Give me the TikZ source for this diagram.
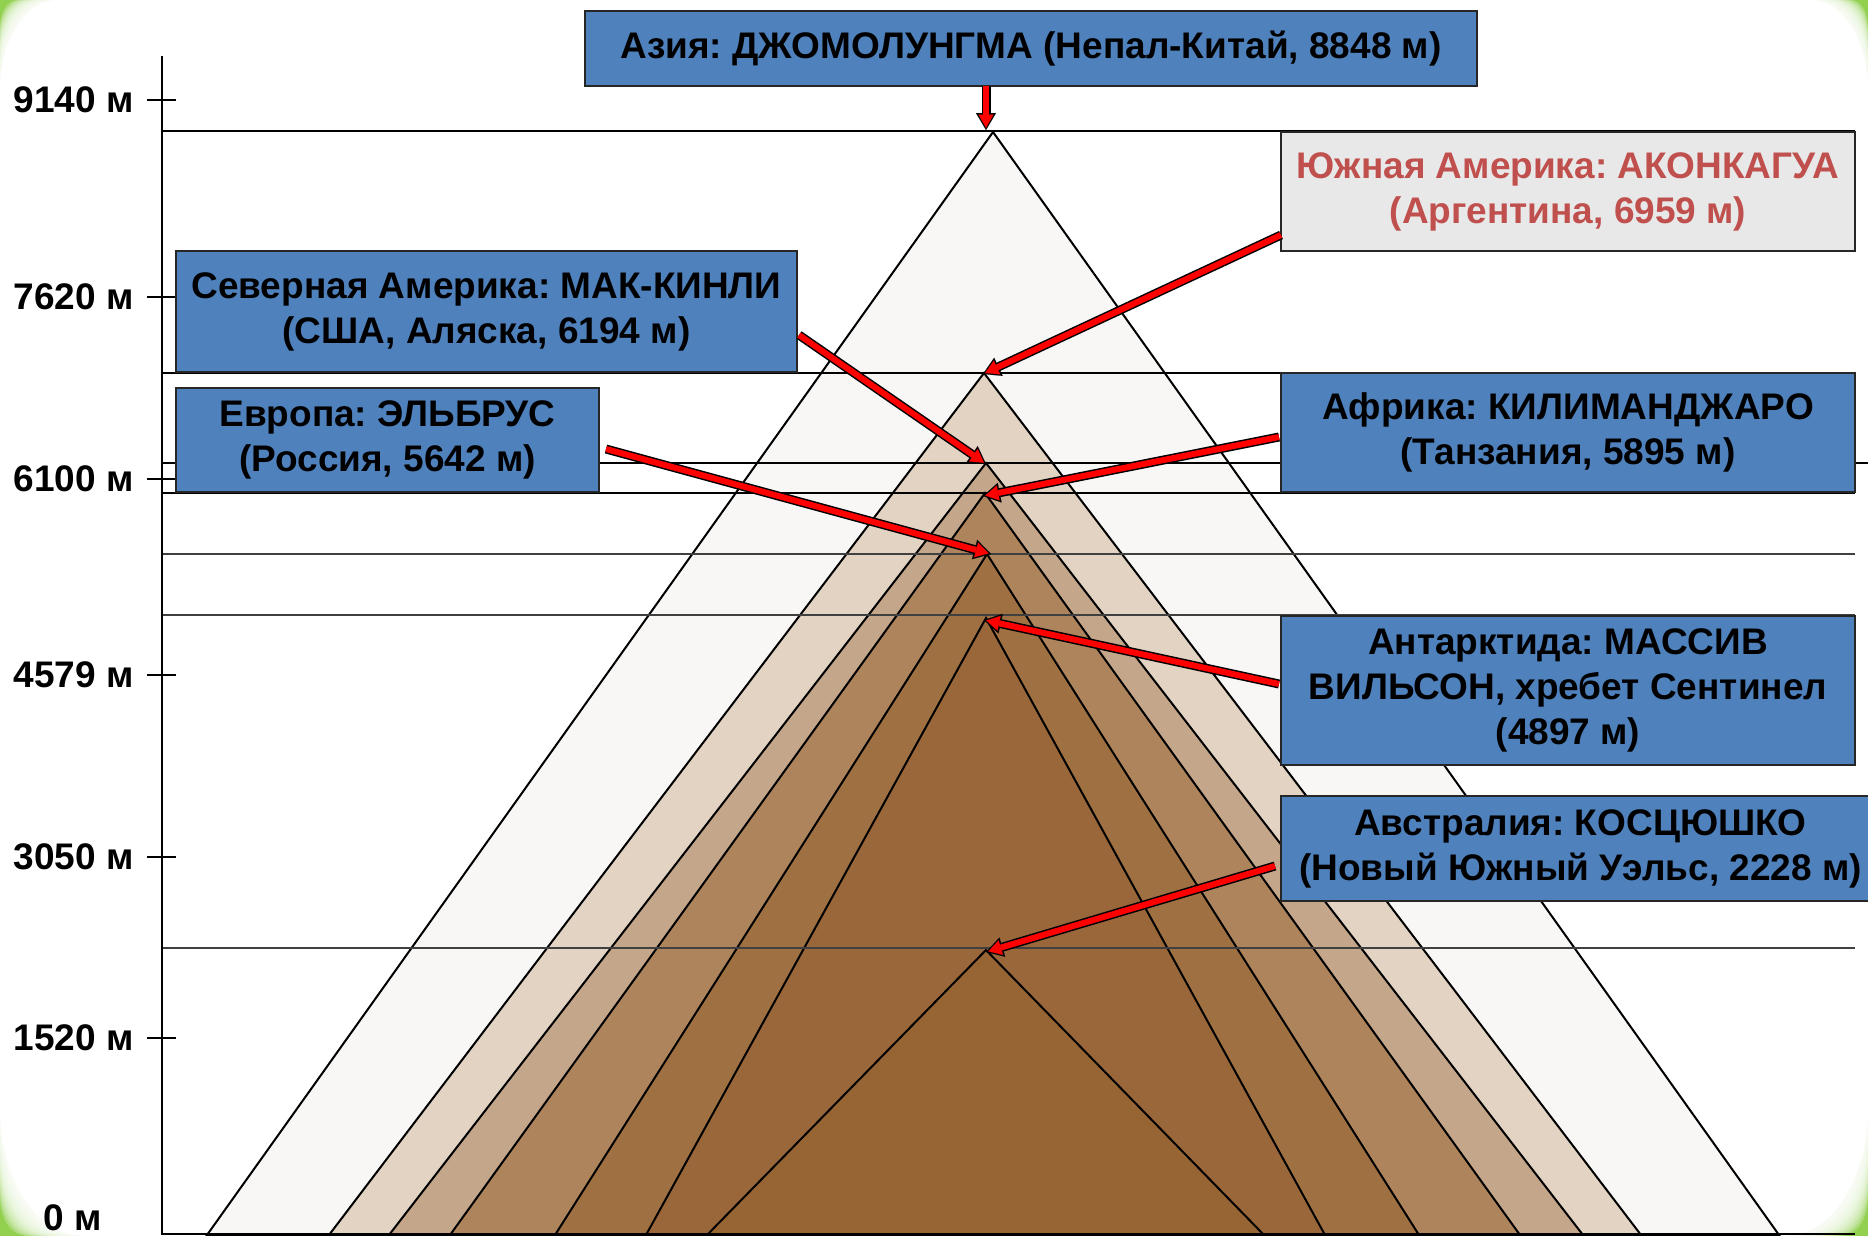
\documentclass[tikz,border=0pt]{standalone}
\usepackage{fontspec}
\setmainfont{Liberation Sans}
\usetikzlibrary{arrows.meta}
\frenchspacing
\definecolor{bgreen}{HTML}{92D050}
\definecolor{boxblue}{HTML}{4F81BD}
\definecolor{boxgray}{HTML}{E8E8E8}
\definecolor{acred}{HTML}{C0504D}
\definecolor{tA}{HTML}{F8F7F5}
\definecolor{tB}{HTML}{E2D3C3}
\definecolor{tC}{HTML}{C4A68A}
\definecolor{tD}{HTML}{AE845C}
\definecolor{tE}{HTML}{9F7042}
\definecolor{tF}{HTML}{9A673A}
\definecolor{tG}{HTML}{976534}
\definecolor{arrred}{HTML}{FF0000}
\newcommand\myredarrow[2]{%
  \draw[line width=9pt,black,-{Triangle[length=17pt,width=20pt,line width=0.01pt]}] (#1) -- (#2);
  \draw[line width=6pt,arrred,-{Triangle[length=13pt,width=15pt,line width=0.01pt]},shorten >=2.4pt] (#1) -- (#2);}
\begin{document}
\begin{tikzpicture}[x=1pt,y=-1pt,
  tri/.style={draw=black,line width=2pt,line join=miter},
  hline/.style={draw=black,line width=1.6pt},
  axislabel/.style={font=\fontsize{37}{40}\selectfont\bfseries,inner sep=0pt,anchor=east},
  bluebox/.style={draw=black!85,line width=2pt,fill=boxblue,align=center,
     font=\fontsize{37}{45}\selectfont\bfseries,inner sep=0pt},
  graybox/.style={bluebox,fill=boxgray,text=acred}]
\useasboundingbox (0,0) rectangle (1868,1235);
\fill[white] (0,0) rectangle (1868,1235);
% green corners only
\fill[bgreen] (-20,-20) rectangle (100,140);
\fill[bgreen] (1768,-20) rectangle (1888,140);
\fill[bgreen] (-20,1085) rectangle (120,1255);
\fill[bgreen] (1748,1085) rectangle (1888,1255);
\foreach \s in {0.30,0.37,0.44,0.51,0.58,0.65,0.72,0.79,0.86,0.93,1.0,1.0} {
 \fill[white,opacity=0.25] (0,{90*\s}) .. controls (0,{40.3*\s}) and ({25.5*\s},0) .. ({57*\s},0)
   -- ({57*\s},-15) -- ({1868-57*\s},-15)
   -- ({1868-57*\s},0) .. controls ({1868-25.5*\s},0) and (1868,{40.3*\s}) .. (1868,{90*\s})
   -- (1883,{90*\s}) -- (1883,{1235-127*\s})
   -- (1868,{1235-127*\s}) .. controls (1868,{1235-56.9*\s}) and ({1868-35.8*\s},1235) .. ({1868-80*\s},1235)
   -- ({1868-80*\s},1250) -- ({80*\s},1250)
   -- ({80*\s},1235) .. controls ({35.8*\s},1235) and (0,{1235-56.9*\s}) .. (0,{1235-127*\s})
   -- (-15,{1235-127*\s}) -- (-15,{90*\s}) -- cycle;
}
\fill[white] (0,90) .. controls (0,40.3) and (25.5,0) .. (57,0) -- (57,-15) -- (1811,-15)
   -- (1811,0) .. controls (1842.5,0) and (1868,40.3) .. (1868,90) -- (1883,90) -- (1883,1108)
   -- (1868,1108) .. controls (1868,1178.1) and (1832.2,1235) .. (1788,1235) -- (1788,1250) -- (80,1250)
   -- (80,1235) .. controls (35.8,1235) and (0,1178.1) .. (0,1108) -- (-15,1108) -- (-15,90) -- cycle;

% apex coordinates
\coordinate (aE) at (993,132);
\coordinate (aA) at (984,373);
\coordinate (aM) at (986,463);
\coordinate (aK) at (985,493);
\coordinate (aL) at (987,554);
\coordinate (aV) at (986,618);
\coordinate (aC) at (986,950);

% mountains
\filldraw[tri,fill=tA] (207,1235) -- (aE) -- (1779,1235) -- cycle;
\filldraw[tri,fill=tB] (329,1235) -- (aA) -- (1641,1235) -- cycle;
\filldraw[tri,fill=tC] (389,1235) -- (aM) -- (1583,1235) -- cycle;
\filldraw[tri,fill=tD] (450,1235) -- (aK) -- (1520,1235) -- cycle;
\filldraw[tri,fill=tE] (555,1235) -- (aL) -- (1419,1235) -- cycle;
\filldraw[tri,fill=tF] (646,1235) -- (aV) -- (1325,1235) -- cycle;
\filldraw[tri,fill=tG] (707,1235) -- (aC) -- (1264,1235) -- cycle;

% level lines
\draw[hline] (162,131) -- (1855,131);
\draw[hline] (162,373) -- (1855,373);
\draw[hline] (162,463) -- (1868,463);
\draw[hline] (162,493) -- (1855,493);
\draw[hline,draw=black!75] (162,554) -- (1855,554);
\draw[hline,draw=black!75] (162,615) -- (1855,615);
\draw[hline,draw=black!75] (162,948) -- (1855,948);

% axis
\draw[line width=2.4pt] (162,56) -- (162,1235);
\draw[line width=2.4pt] (162,1234) -- (1855,1234);
\foreach \yy/\lab in {100/9140,297/7620,479/6100,675/4579,857/3050,1038/1520} {
  \draw[line width=2pt] (147,\yy) -- (176,\yy);
  \node[axislabel] (lab\lab) at (134,\yy) {\lab\ м};
}
\node[axislabel] (lab0) at (102,1218) {0 м};

% boxes
\node[bluebox,minimum width=892pt,minimum height=75pt] (asia) at (1031,48.5)
  {Азия: ДЖОМОЛУНГМА (Непал-Китай, 8848 м)};
\node[graybox,minimum width=574pt,minimum height=119pt] (acon) at (1568,191.5)
  {Южная Америка: АКОНКАГУА\\(Аргентина, 6959 м)};
\node[bluebox,minimum width=621pt,minimum height=121pt] (mck) at (486.5,311.5)
  {Северная Америка: МАК-КИНЛИ\\(США, Аляска, 6194 м)};
\node[bluebox,minimum width=423pt,minimum height=104pt] (elb) at (387.5,440)
  {Европа: ЭЛЬБРУС\\(Россия, 5642 м)};
\node[bluebox,minimum width=574pt,minimum height=119pt] (kil) at (1568,432.5)
  {Африка: КИЛИМАНДЖАРО\\(Танзания, 5895 м)};
\node[bluebox,minimum width=574pt,minimum height=149pt] (vin) at (1568,690.5)
  {Антарктида: МАССИВ\\ВИЛЬСОН, хребет Сентинел\\(4897 м)};
\node[bluebox,minimum width=599pt,minimum height=105pt] (kos) at (1580.5,848.5)
  {Австралия: КОСЦЮШКО\\(Новый Южный Уэльс, 2228 м)};

% arrow coordinates
\coordinate (sAsia) at (986,86);   \coordinate (tAsia) at (986,130);
\coordinate (sAcon) at (1281,235); \coordinate (tAcon) at (983,374);
\coordinate (sMck) at (799,335);   \coordinate (tMck) at (986,464);
\coordinate (sKil) at (1279,437);  \coordinate (tKil) at (983,496);
\coordinate (sElb) at (606,449);   \coordinate (tElb) at (991,554);
\coordinate (sVin) at (1279,684);  \coordinate (tVin) at (984,620);
\coordinate (sKos) at (1275,866);  \coordinate (tKos) at (986,952);

\myredarrow{sAsia}{tAsia}
\myredarrow{sAcon}{tAcon}
\myredarrow{sMck}{tMck}
\myredarrow{sKil}{tKil}
\myredarrow{sElb}{tElb}
\myredarrow{sVin}{tVin}
\myredarrow{sKos}{tKos}
\end{tikzpicture}
\end{document}
